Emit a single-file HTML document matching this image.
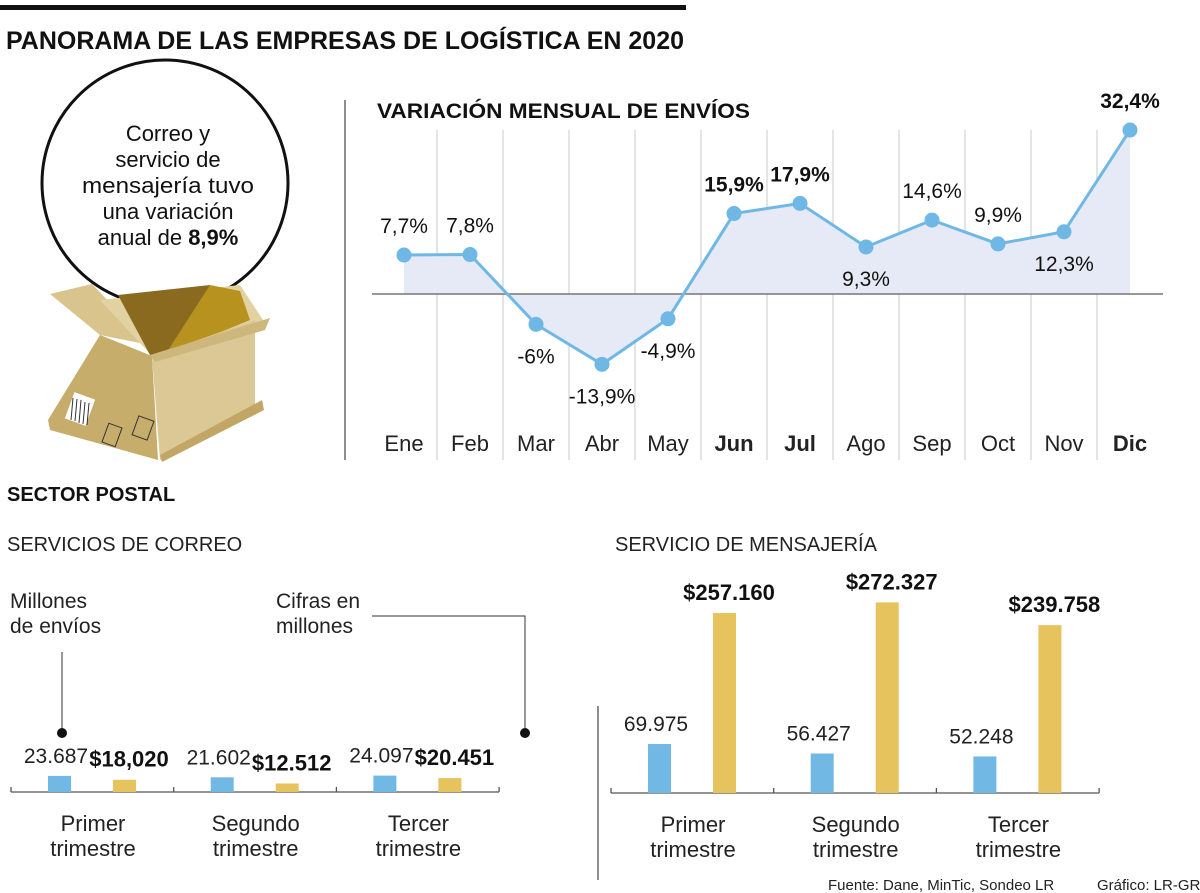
<!DOCTYPE html>
<html><head><meta charset="utf-8">
<style>
html,body{margin:0;padding:0;background:#fff;}
svg{display:block;font-family:"Liberation Sans",sans-serif;}
</style></head>
<body>
<svg width="1200" height="893" viewBox="0 0 1200 893" xmlns="http://www.w3.org/2000/svg" id="root">
<rect x="0" y="5" width="686" height="5" fill="#111"/>
<text x="6" y="49" font-size="25" font-weight="bold" fill="#111" textLength="678" lengthAdjust="spacingAndGlyphs">PANORAMA DE LAS EMPRESAS DE LOGÍSTICA EN 2020</text>

<!-- circle callout -->
<g>
<circle cx="165" cy="183" r="123" fill="#fff" stroke="#111" stroke-width="3"/>
<g font-size="22" fill="#111" text-anchor="middle">
<text x="168" y="141">Correo y</text>
<text x="168" y="167">servicio de</text>
<text x="168" y="193" textLength="172" lengthAdjust="spacingAndGlyphs">mensajería tuvo</text>
<text x="168" y="219">una variación</text>
<text x="168" y="245">anual de <tspan font-weight="bold">8,9%</tspan></text>
</g>
</g>
<!-- box illustration -->
<g>
<polygon points="50,294 92,284 150,345 100,335" fill="#d9c48e"/>
<polygon points="100,300 240,285 265,323 152,356" fill="#e2d2a2"/>
<polygon points="118,295 210,285 185,350 150,355" fill="#8a6a1e"/>
<polygon points="210,285 240,291 250,320 165,355" fill="#b8921f"/>
<polygon points="100,335 152,356 158,460 50,430 48,420" fill="#c7ad6c"/>
<polygon points="152,356 255,320 255,410 160,460" fill="#dcc895"/>
<polygon points="150,355 270,318 265,330 155,362" fill="#cdb77d"/>
<polygon points="160,455 262,400 264,410 162,462" fill="#c2a666"/>
<rect x="69" y="395" width="22" height="28" fill="#fff" transform="rotate(20 80 409)"/>
<g stroke="#333" stroke-width="1"><line x1="73" y1="398" x2="71" y2="420"/><line x1="77" y1="399" x2="75" y2="421"/><line x1="81" y1="400" x2="79" y2="423"/><line x1="85" y1="402" x2="83" y2="424"/><line x1="89" y1="403" x2="87" y2="425"/></g>
<rect x="105" y="425" width="14" height="20" fill="none" stroke="#333" transform="rotate(20 112 435)"/>
<rect x="135" y="418" width="16" height="20" fill="none" stroke="#333" transform="rotate(20 143 428)"/>
</g>

<!-- line chart -->
<line x1="345" y1="100" x2="345" y2="460" stroke="#444" stroke-width="1.2"/>
<text x="377" y="118" font-size="21" font-weight="bold" fill="#111" textLength="373" lengthAdjust="spacingAndGlyphs">VARIACIÓN MENSUAL DE ENVÍOS</text>
<g id="lineChart"></g>

<!-- sector postal -->
<text x="7" y="501" font-size="20" font-weight="bold" fill="#111">SECTOR POSTAL</text>
<text x="7" y="551" font-size="20" fill="#222">SERVICIOS DE CORREO</text>
<text x="615" y="551" font-size="20" fill="#222">SERVICIO DE MENSAJERÍA</text>
<g font-size="21" fill="#222"><text x="10" y="608">Millones</text><text x="10" y="633">de envíos</text></g>
<g font-size="21" fill="#222"><text x="276" y="608">Cifras en</text><text x="276" y="633">millones</text></g>
<g stroke="#333" stroke-width="1" fill="none">
<line x1="62" y1="652" x2="62" y2="733"/>
<polyline points="372,616 525,616 525,733"/>
</g>
<circle cx="62" cy="733" r="5" fill="#111"/>
<circle cx="525" cy="733" r="5" fill="#111"/>
<line x1="598" y1="706" x2="598" y2="880" stroke="#444" stroke-width="1.2"/>
<g id="barCharts"></g>
<text x="828" y="890" font-size="15" fill="#222">Fuente: Dane, MinTic, Sondeo LR</text>
<text x="1097" y="890" font-size="15" fill="#222">Gráfico: LR-GR</text>
</svg>
<script>
const months = ["Ene","Feb","Mar","Abr","May","Jun","Jul","Ago","Sep","Oct","Nov","Dic"];
const variation = [7.7,7.8,-6,-13.9,-4.9,15.9,17.9,9.3,14.6,9.9,12.3,32.4];
const variationLabels = ["7,7%","7,8%","-6%","-13,9%","-4,9%","15,9%","17,9%","9,3%","14,6%","9,9%","12,3%","32,4%"];
const quarters = ["Primer","Segundo","Tercer"];
const correoEnvios = [23687,21602,24097];
const correoEnviosLabels = ["23.687","21.602","24.097"];
const correoCifras = [18.020,12.512,20.451];
const correoCifrasLabels = ["$18,020","$12.512","$20.451"];
const mensEnvios = [69975,56427,52248];
const mensEnviosLabels = ["69.975","56.427","52.248"];
const mensCifras = [257160,272327,239758];
const mensCifrasLabels = ["$257.160","$272.327","$239.758"];

const NS="http://www.w3.org/2000/svg";
function mk(tag, attrs, parent){const e=document.createElementNS(NS,tag);for(const k in attrs)e.setAttribute(k,attrs[k]);parent.appendChild(e);return e;}

// line chart
const lc=document.getElementById('lineChart');
const xM=i=>404+i*66;
const yV=v=>294-v*5.06;
for(let i=1;i<months.length;i++){
  const gl=mk('line',{x1:xM(i)-33,y1:130,x2:xM(i)-33,y2:460,stroke:'#c8c8c8','stroke-width':1},lc);
  
  
}
let areaPts=xM(0)+','+yV(0)+' ';
variation.forEach((v,i)=>{areaPts+=xM(i)+','+yV(v)+' ';});
areaPts+=xM(months.length-1)+','+yV(0);
const area=mk('polygon',{points:areaPts,fill:'#e6eaf6'},lc);


const zl=mk('line',{x1:372,y1:yV(0),x2:1163,y2:yV(0),stroke:'#777','stroke-width':1.5},lc);


const ln=mk('polyline',{points:variation.map((v,i)=>xM(i)+','+yV(v)).join(' '),fill:'none',stroke:'#6fb8e6','stroke-width':3},lc);


const boldIdx=[5,6,11];
const labelOff=[-1,-1,1,1,1,-1,-1,1,-1,-1,1,-1];
variation.forEach((v,i)=>{
  const c=mk('circle',{cx:xM(i),cy:yV(v),r:7.5,fill:'#6fb8e6'},lc);
  
  
  const b=boldIdx.includes(i);
  const ty=labelOff[i]<0?yV(v)-22:yV(v)+39;
  const t=mk('text',{x:xM(i),y:ty,'font-size':21,'text-anchor':'middle',fill:'#111','font-weight':b?'bold':'normal'},lc);
  t.textContent=variationLabels[i];
  
  
  const m=mk('text',{x:xM(i),y:451,'font-size':22,'text-anchor':'middle',fill:'#222','font-weight':b?'bold':'normal'},lc);
  m.textContent=months[i];
  
  
});

// bar charts
const bc=document.getElementById('barCharts');
function barChart(x0,base,blueVals,blueLabels,yelVals,yelLabels,blueScale,yelScale,labelDy,name){
  const ax=mk('line',{x1:x0,y1:base,x2:x0+488,y2:base,stroke:'#555','stroke-width':1.3},bc);
  
  
  for(let k=0;k<4;k++){
    const tk=mk('line',{x1:x0+k*162.7,y1:base-5,x2:x0+k*162.7,y2:base,stroke:'#555','stroke-width':1.3},bc);
    
    
  }
  quarters.forEach((q,i)=>{
    const gx=x0+i*162.7;
    const bh=blueVals[i]*blueScale, yh=yelVals[i]*yelScale;
    const b=mk('rect',{x:gx+37,y:base-bh,width:23,height:bh,fill:'#72b8e4'},bc);
    
    
    const y=mk('rect',{x:gx+102,y:base-yh,width:23,height:yh,fill:'#e7c35e'},bc);
    
    
    const bt=mk('text',{x:gx+45,y:base-bh-labelDy,'font-size':21,'text-anchor':'middle',fill:'#222'},bc);
    bt.textContent=blueLabels[i];
    
    
    const yt=mk('text',{x:gx+118,y:base-yh-labelDy,'font-size':22,'font-weight':'bold','text-anchor':'middle',fill:'#111'},bc);
    yt.textContent=yelLabels[i];
    
    
    const q1=mk('text',{x:gx+82,y:base+39,'font-size':22,'text-anchor':'middle',fill:'#222'},bc);
    q1.textContent=q;
    
    
    const q2=mk('text',{x:gx+82,y:base+64,'font-size':22,'text-anchor':'middle',fill:'#222'},bc);
    q2.textContent='trimestre';
    
    
  });
}
barChart(11,792,correoEnvios,correoEnviosLabels,correoCifras,correoCifrasLabels,0.00068,0.68,13,'correo');
barChart(611,793,mensEnvios,mensEnviosLabels,mensCifras,mensCifrasLabels,0.0007,0.0007,13,'mensajeria');
</script>
</body></html>
